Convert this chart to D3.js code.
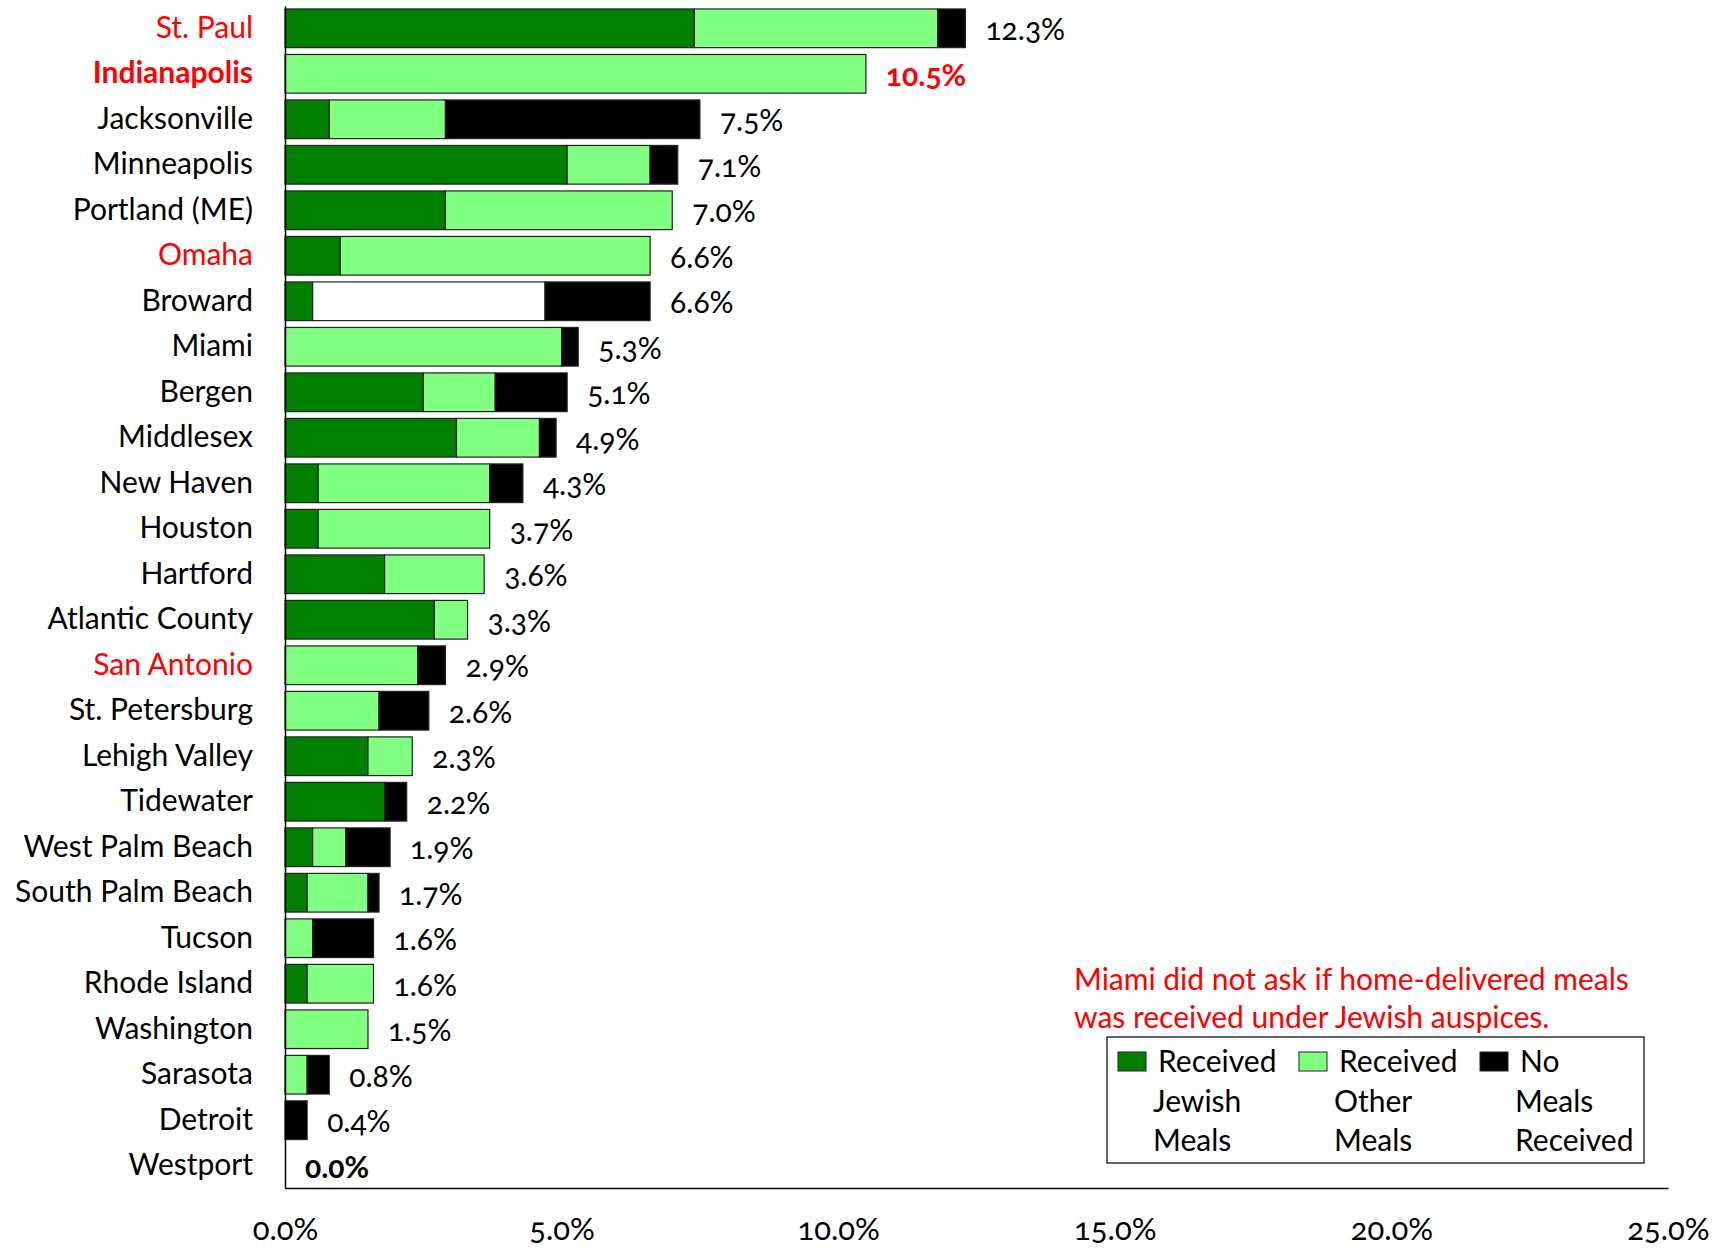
<!DOCTYPE html>
<html>
<head>
<meta charset="utf-8">
<script src="https://cdn.jsdelivr.net/npm/d3@7"></script>
<style>
  body { margin: 0; background: #fff; }
  text { font-family: Lato, "Open Sans", sans-serif; font-variant-numeric: oldstyle-nums; }
</style>
</head>
<body>
<div id="chart"></div>
<script>
// Data (percent of respondents)
var cities = ["St. Paul", "Indianapolis", "Jacksonville", "Minneapolis", "Portland (ME)", "Omaha",
  "Broward", "Miami", "Bergen", "Middlesex", "New Haven", "Houston", "Hartford", "Atlantic County",
  "San Antonio", "St. Petersburg", "Lehigh Valley", "Tidewater", "West Palm Beach", "South Palm Beach",
  "Tucson", "Rhode Island", "Washington", "Sarasota", "Detroit", "Westport"];
var jewishMeals = [7.4, 0, 0.8, 5.1, 2.9, 1.0, 0.5, 0, 2.5, 3.1, 0.6, 0.6, 1.8, 2.7, 0, 0, 1.5, 1.8, 0.5, 0.4, 0, 0.4, 0, 0, 0, 0];
var otherMeals = [4.4, 10.5, 2.1, 1.5, 4.1, 5.6, 0, 5.0, 1.3, 1.5, 3.1, 3.1, 1.8, 0.6, 2.4, 1.7, 0.8, 0, 0.6, 1.1, 0.5, 1.2, 1.5, 0.4, 0, 0];
var unknownMeals = [0, 0, 0, 0, 0, 0, 4.2, 0, 0, 0, 0, 0, 0, 0, 0, 0, 0, 0, 0, 0, 0, 0, 0, 0, 0, 0];
var noMeals = [0.5, 0, 4.6, 0.5, 0, 0, 1.9, 0.3, 1.3, 0.3, 0.6, 0, 0, 0, 0.5, 0.9, 0, 0.4, 0.8, 0.2, 1.1, 0, 0, 0.4, 0.4, 0];
var totals = [12.3, 10.5, 7.5, 7.1, 7.0, 6.6, 6.6, 5.3, 5.1, 4.9, 4.3, 3.7, 3.6, 3.3, 2.9, 2.6, 2.3, 2.2, 1.9, 1.7, 1.6, 1.6, 1.5, 0.8, 0.4, 0.0];
var redCities = ["St. Paul", "Indianapolis", "Omaha", "San Antonio"];
var boldCities = ["Indianapolis"];
var boldValues = ["Indianapolis", "Westport"];
var xTicks = [0, 5, 10, 15, 20, 25];
var seriesKeys = ["jewish", "other", "unknown", "none"];
var seriesColors = ["#008000", "#80ff80", "#ffffff", "#000000"];
var legendLines = [["Received", "Jewish", "Meals"], ["Received", "Other", "Meals"], ["No", "Meals", "Received"]];
var legendColors = ["#008000", "#80ff80", "#000000"];
var note = ["Miami did not ask if home-delivered meals", "was received under Jewish auspices."];

var svgWidth = 1731;
var svgHeight = 1248;

var svg = d3.select("#chart")
  .append("svg")
  .attr("width", svgWidth)
  .attr("height", svgHeight);

// build rows for the stack
var rows = cities.map(function (c, i) {
  return { city: c, jewish: jewishMeals[i], other: otherMeals[i], unknown: unknownMeals[i], none: noMeals[i], total: totals[i] };
});

var x = d3.scaleLinear().domain([0, 25]).range([285, 1668]);
var y = d3.scaleBand().domain(cities).range([6, 1188]).paddingInner(0.15).paddingOuter(0.065);
var color = d3.scaleOrdinal().domain(seriesKeys).range(seriesColors);

var stacked = d3.stack().keys(seriesKeys)(rows);

// bars
svg.append("g")
  .selectAll("g")
  .data(stacked)
  .enter()
  .append("g")
  .attr("fill", d => color(d.key))
  .selectAll("rect")
  .data(d => d.filter(s => s[1] - s[0] > 0))
  .enter()
  .append("rect")
  .attr("x", d => x(d[0]))
  .attr("y", d => y(d.data.city))
  .attr("width", d => x(d[1]) - x(d[0]))
  .attr("height", y.bandwidth())
  .attr("stroke", "#222")
  .attr("stroke-width", 1.2);

// value labels
svg.append("g")
  .selectAll("text")
  .data(rows)
  .enter()
  .append("text")
  .attr("x", d => x(d.total) + 20)
  .attr("y", d => y(d.city) + y.bandwidth() / 2)
  .attr("dominant-baseline", "central")
  .attr("font-size", "30px")
  .attr("font-weight", d => boldValues.includes(d.city) ? "bold" : "normal")
  .attr("fill", d => d.city === "Indianapolis" ? "#ff0000" : "#000")
  .text(d => d.total.toFixed(1) + "%");

// axes
var leftAxis = d3.axisLeft(y).tickSize(0).tickSizeOuter(0).tickPadding(32);
var bottomAxis = d3.axisBottom(x).tickValues(xTicks).tickSize(0).tickSizeOuter(0).tickPadding(30)
  .tickFormat(d => d.toFixed(1) + "%");

var gy = svg.append("g")
  .attr("transform", "translate(285, 0)")
  .call(leftAxis);
gy.select(".domain").attr("stroke", "#000").attr("stroke-width", 1.5);
gy.selectAll("text")
  .attr("font-size", "30px")
  .attr("font-family", "Lato, sans-serif")
  .attr("fill", d => redCities.includes(d) ? "#ff0000" : "#000")
  .attr("font-weight", d => boldCities.includes(d) ? "bold" : "normal");

var gx = svg.append("g")
  .attr("transform", "translate(0, 1188)")
  .call(bottomAxis);
gx.select(".domain").attr("stroke", "#000").attr("stroke-width", 1.5);
gx.selectAll("text")
  .attr("font-size", "31px")
  .attr("font-family", "Lato, sans-serif")
  .attr("fill", "#000");

// note
svg.append("g")
  .selectAll("text")
  .data(note)
  .enter()
  .append("text")
  .attr("x", 1074)
  .attr("y", (d, i) => 978 + i * 38)
  .attr("dominant-baseline", "central")
  .attr("font-size", "30px")
  .attr("fill", "#ff0000")
  .text(d => d);

// legend
var legend = svg.append("g");
legend.append("rect")
  .attr("x", 1107)
  .attr("y", 1037)
  .attr("width", 537)
  .attr("height", 126)
  .attr("fill", "#fff")
  .attr("stroke", "#000")
  .attr("stroke-width", 1.2);

var legendX = [1118, 1299, 1480];
var items = legend.selectAll("g.item")
  .data(legendLines)
  .enter()
  .append("g")
  .attr("class", "item")
  .attr("transform", (d, i) => `translate(${legendX[i]}, 1052)`);

items.append("rect")
  .attr("width", 28)
  .attr("height", 19)
  .attr("fill", (d, i) => legendColors[i])
  .attr("stroke", "#222");

items.selectAll("text")
  .data(d => d)
  .enter()
  .append("text")
  .attr("x", (d, i) => i === 0 ? 40 : 35)
  .attr("y", (d, i) => 8 + i * 39.5)
  .attr("dominant-baseline", "central")
  .attr("font-size", "30px")
  .attr("fill", "#000")
  .text(d => d);
</script>
</body>
</html>
